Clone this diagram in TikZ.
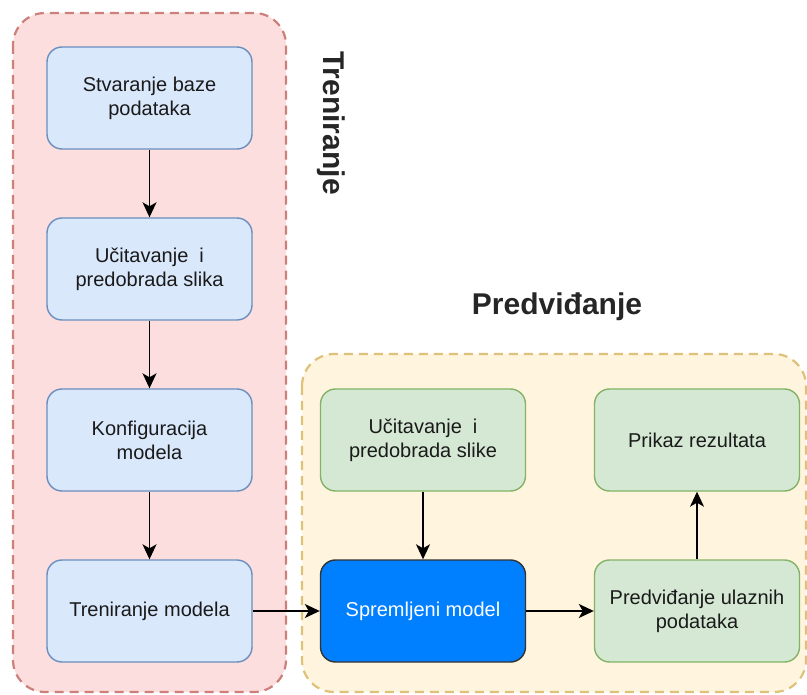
\documentclass[tikz,border=0pt]{standalone}
\usepackage{fontspec}
\setmainfont{Liberation Sans}
\usetikzlibrary{arrows.meta}
\definecolor{bluefill}{HTML}{DAE8FC}
\definecolor{bluestroke}{HTML}{6C8EBF}
\definecolor{greenfill}{HTML}{D5E8D4}
\definecolor{greenstroke}{HTML}{82B366}
\definecolor{pinkfill}{HTML}{FBDEDD}
\definecolor{pinkstroke}{HTML}{CD7F7C}
\definecolor{yellowfill}{HTML}{FFF5DE}
\definecolor{yellowstroke}{HTML}{DEC27A}
\definecolor{modelfill}{HTML}{007FFF}
\definecolor{txt}{HTML}{1A1A1A}
\begin{document}
\begin{tikzpicture}[x=1pt,y=-1pt,
  container/.style={line width=2.2pt,dash pattern=on 9pt off 6pt,rounded corners=32pt},
  box/.style={rectangle,rounded corners=15pt,minimum width=205pt,minimum height=102pt,inner sep=0pt,align=center,line width=1.4pt,font=\fontsize{20pt}{24pt}\selectfont,text=txt},
  bluebox/.style={box,fill=bluefill,draw=bluestroke},
  greenbox/.style={box,fill=greenfill,draw=greenstroke},
  modelbox/.style={box,fill=modelfill,draw=black!80,text=white},
  title/.style={font=\fontsize{30pt}{36pt}\selectfont\bfseries,text=black!85},
  conn/.style={line width=1.6pt,-{Stealth[length=15pt,width=14pt,inset=4pt]}}
]
\useasboundingbox (0,0) rectangle (807,695);
\draw[container,fill=pinkfill,draw=pinkstroke] (13,13) rectangle (286,692);
\draw[container,fill=yellowfill,draw=yellowstroke] (302,354) rectangle (806,692);

\node[title,rotate=-90] (ttr) at (331,123) {Treniranje};
\node[title] (tpr) at (557,307) {Predviđanje};

\node[bluebox] (b1) at (149.5,98) {Stvaranje baze\\podataka};
\node[bluebox] (b2) at (149.5,269) {Učitavanje~~i\\predobrada slika};
\node[bluebox] (b3) at (149.5,440) {Konfiguracija\\modela};
\node[bluebox] (b4) at (149.5,611) {Treniranje modela};

\node[greenbox] (g1) at (423,440) {Učitavanje~~i\\predobrada slike};
\node[greenbox] (g2) at (697,440) {Prikaz rezultata};
\node[modelbox] (sm) at (423,611) {Spremljeni model};
\node[greenbox] (pr) at (697,611) {Predviđanje ulaznih\\podataka};

\draw[conn] (b1) -- (b2);
\draw[conn] (b2) -- (b3);
\draw[conn] (b3) -- (b4);
\draw[conn] (b4) -- (sm);
\draw[conn] (g1) -- (sm);
\draw[conn] (sm) -- (pr);
\draw[conn] (pr) -- (g2);
\end{tikzpicture}
\end{document}
